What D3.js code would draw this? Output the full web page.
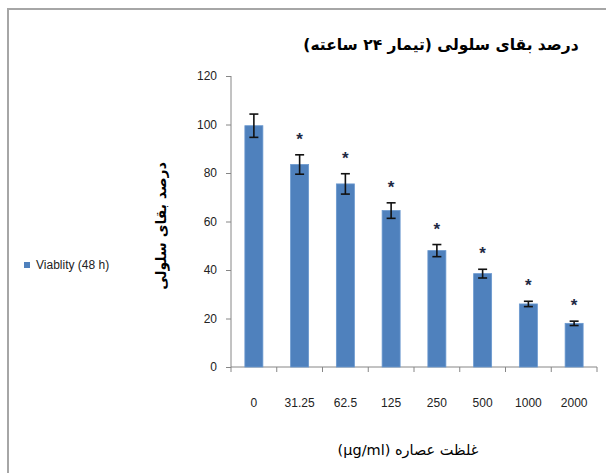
<!DOCTYPE html>
<html><head><meta charset="utf-8">
<script src="https://cdn.jsdelivr.net/npm/d3@7/dist/d3.min.js"></script>
<style>body{margin:0;background:#fff}svg{display:block}</style>
</head><body>
<script>
const categories = ["0","31.25","62.5","125","250","500","1000","2000"];
const values = [99.5, 83.5, 75.5, 64.5, 48, 38.5, 26, 18];
const errors = [4.8, 4, 4.2, 3.2, 2.5, 1.8, 1.1, 0.9];
const significant = [false, true, true, true, true, true, true, true];
const yTicks = [0,20,40,60,80,100,120];
const titleText = "درصد بقای سلولی (تیمار ۲۴ ساعته)";
const yLabel = "درصد بقای سلولی";
const xLabel = "غلظت عصاره (µg/ml)";
const legendLabel = "Viablity (48 h)";

const W = 606, H = 473;
const svg = d3.select("body").append("svg").attr("width", W).attr("height", H);

// outer frame (top and left border)
svg.append("path").attr("d", "M8,473 V9 H606").attr("fill","none").attr("stroke","#a6a6a6").attr("stroke-width",2);

const y = d3.scaleLinear().domain([0,120]).range([367, 76]);
const band = d3.scaleBand().domain(categories).range([231, 597]);

const axisColor = "#868686";
const tickFont = "'Liberation Sans', Arial, sans-serif";
// y axis
const ya = svg.append("g").attr("transform","translate(231,0)")
  .call(d3.axisLeft(y).tickValues(yTicks).tickSize(5).tickPadding(9));
ya.select(".domain").attr("stroke", axisColor).attr("d","M0,"+y(120)+"V"+y(0));
ya.selectAll(".tick line").attr("stroke", axisColor);
ya.selectAll("text").attr("font-family",tickFont).attr("font-size",12).attr("fill","#222");

// x axis
const xa = svg.append("g").attr("transform","translate(0,367)")
  .call(d3.axisBottom(band).tickSize(0).tickPadding(31));
xa.select(".domain").attr("stroke", axisColor).attr("d","M231,0H597");
xa.selectAll("text").attr("font-family",tickFont).attr("font-size",12).attr("fill","#222");
// category boundary ticks
const bounds = categories.map(c => band(c)).concat([597]);
svg.append("g").selectAll("line").data(bounds).join("line")
  .attr("x1", d=>d).attr("x2", d=>d).attr("y1",367).attr("y2",372).attr("stroke",axisColor);

// bars
svg.append("g").selectAll("rect").data(values).join("rect")
  .attr("x",(d,i)=>band(categories[i]) + band.bandwidth()/2 - 9)
  .attr("width",18)
  .attr("y",d=>y(d)).attr("height",d=>y(0)-y(d))
  .attr("fill","#4f81bd").attr("stroke","#6a98cf").attr("stroke-width",0.8);

// error bars
const eg = svg.append("g").attr("stroke","#111").attr("stroke-width",1.6);
values.forEach((v,i)=>{
  const cx = band(categories[i]) + band.bandwidth()/2;
  const t = y(v+errors[i]), b = y(v-errors[i]);
  eg.append("line").attr("x1",cx).attr("x2",cx).attr("y1",t).attr("y2",b);
  eg.append("line").attr("x1",cx-4.5).attr("x2",cx+4.5).attr("y1",t).attr("y2",t);
  eg.append("line").attr("x1",cx-4.5).attr("x2",cx+4.5).attr("y1",b).attr("y2",b);
});

// significance stars
svg.append("g").selectAll("text").data(values.map((v,i)=>({v,i})).filter(d=>significant[d.i])).join("text")
  .attr("x",d=>band(categories[d.i]) + band.bandwidth()/2)
  .attr("y",d=>y(d.v+errors[d.i]) - 10)
  .attr("text-anchor","middle").attr("font-family",tickFont)
  .attr("font-size",17).attr("font-weight","bold").attr("fill","#1f2a44").text("*");

// title
svg.append("text").attr("x",441).attr("y",50).attr("text-anchor","middle").attr("direction","rtl")
  .attr("font-family","'DejaVu Sans', sans-serif").attr("font-weight","bold").attr("font-size",15.5)
  .attr("fill","#000").text(titleText);

// y label
svg.append("text").attr("transform","translate(166,226) rotate(-90)").attr("text-anchor","middle")
  .attr("direction","rtl")
  .attr("font-family","'DejaVu Sans', sans-serif").attr("font-weight","bold").attr("font-size",14)
  .attr("fill","#000").text(yLabel);

// x label
svg.append("text").attr("x",408).attr("y",455).attr("text-anchor","middle").attr("direction","rtl")
  .attr("font-family","'DejaVu Sans', sans-serif").attr("font-size",14.5)
  .attr("fill","#000").text(xLabel);

// legend
svg.append("rect").attr("x",24).attr("y",262).attr("width",6).attr("height",6).attr("fill","#4f81bd");
svg.append("text").attr("x",36).attr("y",269).attr("font-family",tickFont)
  .attr("font-size",12).attr("fill","#222").text(legendLabel);
</script>
</body></html>
